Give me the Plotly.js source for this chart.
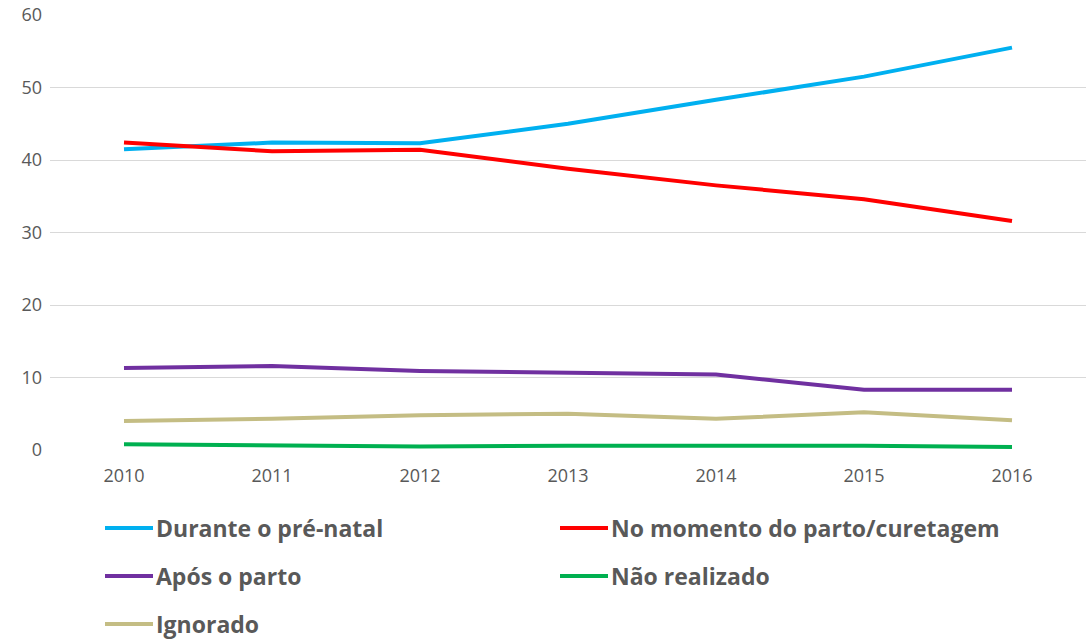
<!DOCTYPE html>
<html>
<head>
<meta charset="utf-8">
<script src="https://cdn.plot.ly/plotly-3.0.1.min.js"></script>
<style>html,body{margin:0;padding:0;background:#fff;}#chart{width:1089px;height:642px;}</style>
</head>
<body>
<div id="chart"></div>
<script>
const years = ['2010','2011','2012','2013','2014','2015','2016'];
const seriesNames = ['Durante o pré-natal','No momento do parto/curetagem','Após o parto','Não realizado','Ignorado'];
const duranteValues = [41.5, 42.4, 42.3, 45.0, 48.3, 51.5, 55.5];
const momentoValues = [42.4, 41.2, 41.4, 38.8, 36.5, 34.6, 31.6];
const aposValues = [11.3, 11.6, 10.9, 10.6, 10.4, 8.3, 8.3];
const naoValues = [0.8, 0.6, 0.5, 0.6, 0.6, 0.6, 0.4];
const ignoradoValues = [4.0, 4.3, 4.8, 5.0, 4.3, 5.2, 4.1];
const yTicks = [0, 10, 20, 30, 40, 50, 60];

const colors = ['#00B0F0', '#FF0000', '#7030A0', '#00B050', '#C4BD84'];
const allValues = [duranteValues, momentoValues, aposValues, naoValues, ignoradoValues];

const W = 1089, H = 642;
const M = {l: 50, r: 3, t: 15, b: 192};
const pw = W - M.l - M.r, ph = H - M.t - M.b;
const px2x = x => (x - M.l) / pw;
const px2y = y => (H - M.b - y) / ph;

const traces = allValues.map((vals, i) => ({
  x: years, y: vals, type: 'scatter', mode: 'lines', name: seriesNames[i],
  line: {color: colors[i], width: 4}, showlegend: false, hoverinfo: 'x+y'
}));

// manual legend placement (row centres / column starts in px)
const legendPos = [
  {x: 105, y: 528}, {x: 560, y: 528},
  {x: 105, y: 576}, {x: 560, y: 576},
  {x: 105, y: 624}
];
const shapes = [], annotations = [];
legendPos.forEach((p, i) => {
  shapes.push({type: 'line', xref: 'paper', yref: 'paper',
    x0: px2x(p.x), x1: px2x(p.x + 48), y0: px2y(p.y), y1: px2y(p.y),
    line: {color: colors[i], width: 4}});
  annotations.push({xref: 'paper', yref: 'paper', x: px2x(p.x + 49), y: px2y(p.y),
    xanchor: 'left', yanchor: 'middle', showarrow: false, text: '<b>' + seriesNames[i] + '</b>',
    font: {family: 'Open Sans, sans-serif', size: 23, color: '#595959'}});
});

const layout = {
  width: W, height: H,
  margin: M,
  paper_bgcolor: '#ffffff', plot_bgcolor: '#ffffff',
  font: {family: 'Open Sans, sans-serif', color: '#595959', size: 18},
  showlegend: false,
  xaxis: {type: 'category', range: [-0.5, 6.5], showgrid: false, zeroline: false,
    showline: false, ticks: '', tickfont: {size: 18, color: '#595959'}, ticklabelstandoff: 13},
  yaxis: {range: [0, 60], tickvals: yTicks, showgrid: true, gridcolor: '#D9D9D9', gridwidth: 1,
    zeroline: false, showline: false, ticks: '', tickfont: {size: 18, color: '#595959'}, ticklabelstandoff: 7},
  shapes: shapes,
  annotations: annotations
};
Plotly.newPlot('chart', traces, layout, {displayModeBar: false, staticPlot: true});
</script>
</body>
</html>
